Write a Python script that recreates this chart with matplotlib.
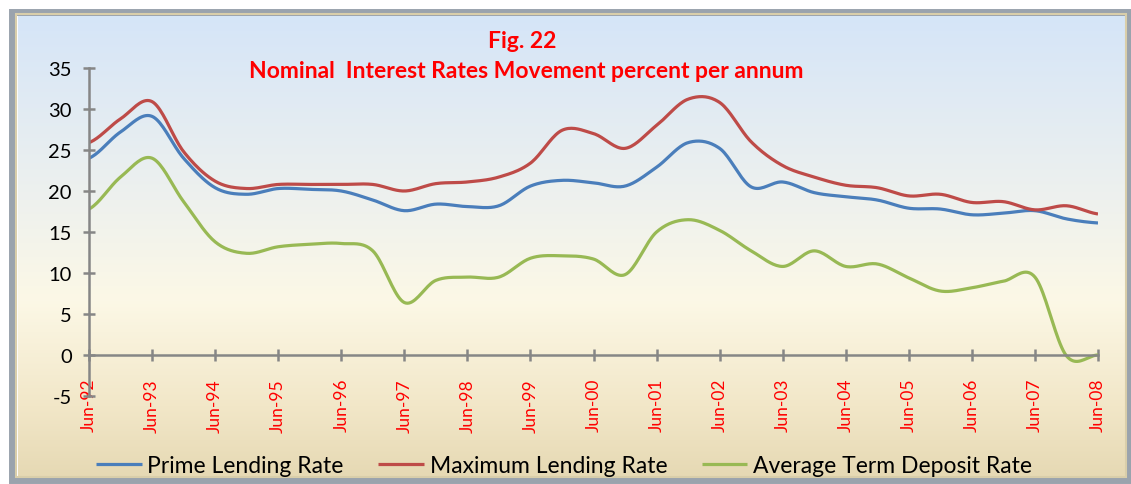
import numpy as np
import matplotlib
matplotlib.use("Agg")
import matplotlib.pyplot as plt
from matplotlib.colors import LinearSegmentedColormap
from matplotlib.patches import Rectangle

# ---------------- data (half-yearly, Jun-92 .. Jun-08) ----------------
periods = ["Jun-92", "Dec-92", "Jun-93", "Dec-93", "Jun-94", "Dec-94", "Jun-95", "Dec-95",
           "Jun-96", "Dec-96", "Jun-97", "Dec-97", "Jun-98", "Dec-98", "Jun-99", "Dec-99",
           "Jun-00", "Dec-00", "Jun-01", "Dec-01", "Jun-02", "Dec-02", "Jun-03", "Dec-03",
           "Jun-04", "Dec-04", "Jun-05", "Dec-05", "Jun-06", "Dec-06", "Jun-07", "Dec-07",
           "Jun-08"]

prime_lending = [24.0, 27.2, 29.1, 24.0, 20.4, 19.6, 20.3, 20.2, 20.0, 18.9, 17.6, 18.4,
                 18.1, 18.2, 20.6, 21.3, 21.0, 20.6, 22.9, 25.9, 25.2, 20.5, 21.1, 19.8,
                 19.3, 18.9, 17.9, 17.8, 17.1, 17.3, 17.6, 16.6, 16.1]

max_lending = [25.9, 28.8, 30.9, 24.8, 21.2, 20.3, 20.8, 20.8, 20.8, 20.8, 20.0, 20.9,
               21.1, 21.7, 23.4, 27.4, 27.0, 25.2, 28.0, 31.2, 30.8, 26.0, 23.1, 21.7,
               20.7, 20.4, 19.4, 19.6, 18.6, 18.7, 17.7, 18.2, 17.2]

avg_term_deposit = [17.8, 21.7, 24.0, 18.7, 13.8, 12.4, 13.2, 13.5, 13.6, 12.7, 6.4, 9.1,
                    9.5, 9.5, 11.8, 12.1, 11.7, 9.8, 15.0, 16.5, 15.2, 12.7, 10.8, 12.7,
                    10.8, 11.1, 9.4, 7.8, 8.2, 9.0, 9.5, -0.1, 0.0]

series_names = ["Prime Lending Rate", "Maximum Lending Rate", "Average Term Deposit Rate"]
series_colors = ["#4a7ebb", "#be4b48", "#98b954"]
tick_labels = periods[::2]


def smooth(y, n=20):
    # Excel-style smoothed line (uniform Catmull-Rom through the points)
    y = np.asarray(y, dtype=float)
    x = np.arange(len(y), dtype=float)
    p = np.concatenate([[y[0]], y, [y[-1]]])
    xs, ys = [], []
    t = np.linspace(0, 1, n, endpoint=False)
    for i in range(len(y) - 1):
        p0, p1, p2, p3 = p[i], p[i + 1], p[i + 2], p[i + 3]
        c1 = p1 + (p2 - p0) / 6
        c2 = p2 - (p3 - p1) / 6
        b = (1 - t) ** 3 * p1 + 3 * (1 - t) ** 2 * t * c1 + 3 * (1 - t) * t ** 2 * c2 + t ** 3 * p2
        xs.append(x[i] + t)
        ys.append(b)
    xs.append([x[-1]])
    ys.append([y[-1]])
    return np.concatenate(xs), np.concatenate(ys)


plt.rcParams['font.family'] = ['Lato', 'DejaVu Sans']
plt.rcParams['axes.unicode_minus'] = False

fig = plt.figure(figsize=(11.31, 4.85), dpi=100)
fig.patch.set_facecolor("white")

# background gradient panel with bevelled frame
bg = fig.add_axes([0, 0, 1, 1], zorder=-10)
bg.set_axis_off()
grad = LinearSegmentedColormap.from_list(
    "bg", [(0.0, "#d5e5f8"), (0.4, "#eef1ee"), (0.62, "#fcf8e6"), (0.85, "#f2e7c8"), (1.0, "#e6d9b4")])
bg.imshow(np.linspace(0, 1, 256).reshape(-1, 1), aspect="auto", cmap=grad,
          extent=[18 / 1131, 1125 / 1131, 1 - 477 / 485, 1 - 16 / 485])
bg.set_xlim(0, 1)
bg.set_ylim(0, 1)
bg.add_patch(Rectangle((12 / 1131, 1 - 481 / 485), 1117 / 1131, 468 / 485,
                       fill=False, edgecolor="#9aa3ad", linewidth=5))
bg.add_patch(Rectangle((16 / 1131, 1 - 478 / 485), 1110 / 1131, 463 / 485,
                       fill=False, edgecolor="#d9ceaa", linewidth=1.5))

ax = fig.add_axes([89 / 1131, 1 - 397 / 485, (1098 - 89) / 1131, (397 - 69) / 485])
ax.patch.set_alpha(0)

for vals, name, col in zip([prime_lending, max_lending, avg_term_deposit], series_names, series_colors):
    sx, sy = smooth(vals)
    ax.plot(sx, sy, color=col, lw=2.3, label=name, solid_capstyle="butt")

ax.set_xlim(0, len(periods) - 1)
ax.set_ylim(-5, 35)
ax.set_yticks(range(-5, 36, 5))
ax.set_xticks(range(0, len(periods), 2))
ax.set_xticklabels(tick_labels)

for s in ["top", "right"]:
    ax.spines[s].set_visible(False)
ax.spines["bottom"].set_position(("data", 0))
for s in ["bottom", "left"]:
    ax.spines[s].set_color("#868686")
    ax.spines[s].set_linewidth(1.8)
ax.tick_params(axis="both", direction="inout", length=9, width=1.8, color="#868686")
ax.tick_params(axis="y", labelsize=14.5, pad=8)
ax.tick_params(axis="x", pad=12, labelsize=12.5, labelrotation=90, labelcolor="red")

fig.text(522 / 1131, 1 - 42 / 485, "Fig. 22", color="red", fontsize=16.5, fontweight="bold",
         ha="center", va="center")
fig.text(526 / 1131, 1 - 72 / 485, "Nominal  Interest Rates Movement percent per annum",
         color="red", fontsize=16.5, fontweight="bold", ha="center", va="center")

fig.legend(loc="center", bbox_to_anchor=(564 / 1131, 1 - 467 / 485), ncol=3, frameon=False,
           fontsize=16.5, handlelength=2.0, handletextpad=0.25, columnspacing=1.5)

fig.savefig("out.png", dpi=100)
